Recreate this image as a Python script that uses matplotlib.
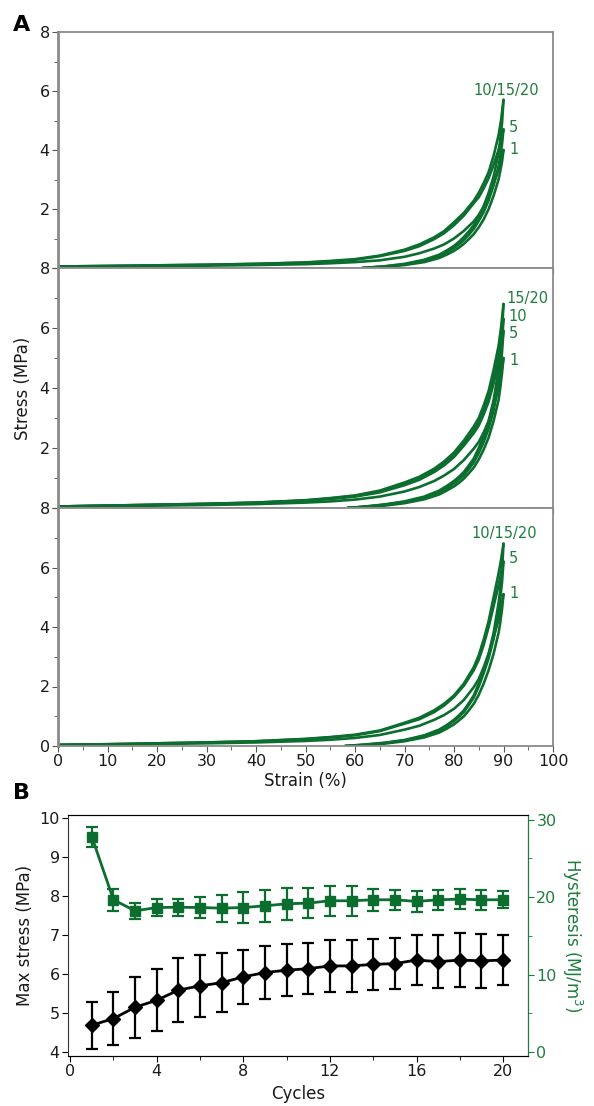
import numpy as np
import matplotlib.pyplot as plt
from matplotlib.ticker import MultipleLocator

# panel A: cyclic compression loops, strain (%) vs stress (MPa)
load_strain = [0, 10, 20, 30, 40, 50, 55, 60, 65, 70, 73, 76, 78, 80, 82, 84, 85, 86, 87, 88, 89, 89.5, 90]

# top sample: cycles 1, 5, 10 (15 and 20 overlap 10)
top_cycles = ["1", "5", "10/15/20"]
top_load = [
    [.04, .05, .06, .08, .10, .13, .16, .20, .26, .38, .50, .66, .80, 1.00, 1.26, 1.58, 1.80, 2.08, 2.40, 2.85, 3.35, 3.65, 4.0],
    [.05, .07, .09, .11, .14, .18, .22, .28, .40, .58, .74, .98, 1.18, 1.45, 1.78, 2.20, 2.40, 2.70, 3.05, 3.50, 4.00, 4.30, 4.7],
    [.05, .07, .09, .11, .14, .19, .24, .30, .42, .62, .80, 1.04, 1.25, 1.55, 1.87, 2.28, 2.55, 2.88, 3.25, 3.80, 4.50, 5.00, 5.7],
]
top_unload_strain = [90, 89.7, 89.3, 89, 88, 87, 86, 85, 84, 83, 82, 81, 80, 78.5, 77, 74, 70, 66, 61.5]
top_unload = [
    [4.0, 3.60, 3.25, 3.00, 2.45, 2.00, 1.65, 1.38, 1.15, 0.98, 0.82, 0.69, 0.58, 0.45, 0.34, 0.20, 0.10, 0.04, 0.0],
    [4.7, 4.20, 3.75, 3.45, 2.80, 2.30, 1.90, 1.60, 1.33, 1.13, 0.95, 0.80, 0.68, 0.53, 0.40, 0.24, 0.12, 0.05, 0.0],
    [5.7, 4.90, 4.30, 3.90, 3.10, 2.55, 2.10, 1.75, 1.45, 1.24, 1.05, 0.89, 0.75, 0.59, 0.45, 0.28, 0.14, 0.06, 0.0],
]
top_label_xy = [(91.1, 4.03, "left"), (91.1, 4.75, "left"), (90.5, 6.03, "center")]

# middle sample: cycles 1, 5, 10, 15/20
mid_cycles = ["1", "5", "10", "15/20"]
mid_load = [
    [.04, .06, .08, .10, .13, .18, .22, .28, .38, .55, .70, .90, 1.08, 1.30, 1.60, 1.98, 2.20, 2.52, 2.90, 3.40, 4.00, 4.45, 5.0],
    [.05, .08, .10, .13, .17, .24, .30, .38, .52, .76, .94, 1.20, 1.42, 1.70, 2.08, 2.50, 2.75, 3.12, 3.55, 4.15, 4.85, 5.30, 5.9],
    [.05, .08, .11, .14, .18, .25, .32, .40, .55, .80, .99, 1.25, 1.48, 1.75, 2.15, 2.60, 2.85, 3.25, 3.70, 4.35, 5.10, 5.60, 6.3],
    [.05, .08, .11, .14, .18, .26, .33, .42, .58, .85, 1.04, 1.31, 1.55, 1.85, 2.25, 2.72, 3.00, 3.42, 3.90, 4.60, 5.40, 6.00, 6.8],
]
mid_unload_strain = [90, 89.7, 89.3, 89, 88, 87, 86, 85, 84, 83, 82, 81, 80, 78.5, 77, 74, 70, 66, 62, 58.5]
mid_unload = [
    [5.0, 4.5, 3.95, 3.60, 2.90, 2.35, 1.95, 1.62, 1.35, 1.16, 0.98, 0.84, 0.72, 0.58, 0.45, 0.29, 0.16, 0.08, 0.03, 0.0],
    [5.9, 5.2, 4.55, 4.10, 3.25, 2.65, 2.20, 1.83, 1.52, 1.30, 1.10, 0.95, 0.82, 0.66, 0.52, 0.34, 0.19, 0.10, 0.04, 0.0],
    [6.3, 5.5, 4.80, 4.35, 3.40, 2.75, 2.30, 1.90, 1.58, 1.36, 1.15, 1.00, 0.86, 0.69, 0.55, 0.36, 0.20, 0.11, 0.04, 0.0],
    [6.8, 5.9, 5.10, 4.60, 3.60, 2.90, 2.40, 2.00, 1.65, 1.42, 1.20, 1.04, 0.90, 0.73, 0.58, 0.38, 0.22, 0.12, 0.05, 0.0],
]
mid_label_xy = [(91.1, 4.93, "left"), (91.1, 5.83, "left"), (90.9, 6.40, "left"), (90.5, 6.97, "left")]

# bottom sample: cycles 1, 5, 10 (15 and 20 overlap 10)
bot_cycles = ["1", "5", "10/15/20"]
bot_load = [
    [.03, .05, .07, .09, .12, .17, .21, .27, .37, .55, .68, .88, 1.04, 1.25, 1.55, 1.98, 2.25, 2.65, 3.10, 3.65, 4.25, 4.65, 5.1],
    [.04, .06, .09, .12, .16, .23, .29, .36, .50, .75, .90, 1.14, 1.36, 1.65, 2.03, 2.55, 2.90, 3.40, 4.00, 4.70, 5.40, 5.80, 6.2],
    [.04, .06, .09, .12, .16, .24, .30, .38, .52, .78, .95, 1.20, 1.42, 1.70, 2.10, 2.65, 3.05, 3.58, 4.20, 5.00, 5.80, 6.25, 6.8],
]
bot_unload_strain = [90, 89.7, 89.3, 89, 88, 87, 86, 85, 84, 83, 82, 81, 80, 78.5, 77, 74, 70, 66, 62, 58]
bot_unload = [
    [5.1, 4.6, 4.1, 3.8, 3.1, 2.55, 2.10, 1.72, 1.42, 1.20, 1.00, 0.86, 0.73, 0.58, 0.45, 0.29, 0.16, 0.08, 0.03, 0.0],
    [6.2, 5.5, 4.9, 4.5, 3.6, 2.95, 2.45, 2.00, 1.63, 1.38, 1.15, 0.98, 0.84, 0.67, 0.52, 0.34, 0.19, 0.10, 0.04, 0.0],
    [6.8, 5.9, 5.2, 4.8, 3.8, 3.10, 2.55, 2.10, 1.70, 1.44, 1.20, 1.03, 0.88, 0.70, 0.55, 0.36, 0.20, 0.11, 0.05, 0.0],
]
bot_label_xy = [(91.1, 5.14, "left"), (91.1, 6.29, "left"), (90.1, 7.13, "center")]

# panel B: per-cycle max stress and hysteresis (mean, sd)
cycles = np.arange(1, 21)
max_stress = [4.69, 4.86, 5.15, 5.33, 5.59, 5.70, 5.78, 5.93, 6.04, 6.10,
              6.14, 6.21, 6.21, 6.25, 6.27, 6.36, 6.32, 6.36, 6.34, 6.36]
max_stress_sd = [0.60, 0.67, 0.78, 0.80, 0.82, 0.80, 0.75, 0.69, 0.68, 0.66,
                 0.66, 0.67, 0.67, 0.66, 0.65, 0.65, 0.68, 0.69, 0.70, 0.64]
hysteresis = [27.8, 19.66, 18.23, 18.66, 18.7, 18.66, 18.58, 18.66, 18.88, 19.14,
              19.23, 19.53, 19.53, 19.66, 19.66, 19.44, 19.66, 19.74, 19.66, 19.66]
hysteresis_sd = [1.3, 1.4, 1.0, 1.1, 1.1, 1.3, 1.75, 2.0, 2.05, 2.1,
                 1.9, 1.9, 1.9, 1.45, 1.3, 1.3, 1.3, 1.3, 1.3, 1.1]

green = '#0b6e2f'
text_green = '#1e7d3e'
spine_gray = '#8a8a8a'
W, H = 594, 1106

plt.rcParams['font.family'] = 'DejaVu Sans'
fig = plt.figure(figsize=(W / 100, H / 100), dpi=100)


def px_axes(left, top, right, bottom):
    return fig.add_axes([left / W, 1 - bottom / H, (right - left) / W, (bottom - top) / H])


panels = [
    (32, 268, top_load, top_unload_strain, top_unload, top_cycles, top_label_xy),
    (268, 508, mid_load, mid_unload_strain, mid_unload, mid_cycles, mid_label_xy),
    (508, 746, bot_load, bot_unload_strain, bot_unload, bot_cycles, bot_label_xy),
]
axes_a = []
for i, (top, bottom, load, us, unload, names, label_xy) in enumerate(panels):
    ax = px_axes(58, top, 553, bottom)
    axes_a.append(ax)
    for ld, ul in zip(load, unload):
        ax.plot(load_strain, ld, color=green, lw=1.9, solid_capstyle='round', solid_joinstyle='round')
        ax.plot(us, ul, color=green, lw=1.9, solid_capstyle='round', solid_joinstyle='round')
    for name, (lx, ly, ha) in zip(names, label_xy):
        ax.text(lx, ly, name, color=text_green, fontsize=10.5, ha=ha, va='center')
    ax.set_xlim(0, 100)
    ax.set_ylim(0, 8)
    ax.xaxis.set_major_locator(MultipleLocator(10))
    ax.xaxis.set_minor_locator(MultipleLocator(5))
    ax.set_yticks([0, 2, 4, 6, 8])
    ax.yaxis.set_minor_locator(MultipleLocator(1))
    if i < 2:
        ax.set_yticklabels(['', '2', '4', '6', '8'])
        ax.tick_params(axis='x', labelbottom=False)
    for s in ax.spines.values():
        s.set_color(spine_gray)
        s.set_linewidth(1.3)
    ax.spines['left'].set_linewidth(2)
    ax.tick_params(which='both', direction='out', color='#555555', labelsize=11.5,
                   labelcolor='#1a1a1a', pad=2)
    ax.tick_params(which='major', length=4)
    ax.tick_params(which='minor', length=3)

axes_a[2].set_xlabel('Strain (%)', fontsize=12, color='#1a1a1a', labelpad=2)
axes_a[1].set_ylabel('Stress (MPa)', fontsize=12, color='#1a1a1a', labelpad=5)
fig.text(13 / W, 1 - 25 / H, 'A', fontsize=16, fontweight='bold', va='center', ha='left')

# panel B
axb = px_axes(68, 815, 528, 1056)
axb.errorbar(cycles, max_stress, yerr=max_stress_sd, color='black', marker='D',
             markersize=7.5, lw=2, elinewidth=1.6, capsize=4, capthick=1.6, zorder=3)
axb.set_xlim(-0.1, 21.15)
axb.set_ylim(3.9, 10.08)
axb.xaxis.set_major_locator(MultipleLocator(4))
axb.xaxis.set_minor_locator(MultipleLocator(2))
axb.yaxis.set_major_locator(MultipleLocator(1))
axb.set_xlabel('Cycles', fontsize=12, color='#1a1a1a', labelpad=4)
axb.set_ylabel('Max stress (MPa)', fontsize=12, color='#1a1a1a', labelpad=4)
axb.tick_params(which='both', direction='out', labelsize=11.5, labelcolor='#1a1a1a', pad=2)
axb.tick_params(which='major', length=4)
axb.tick_params(which='minor', length=3)
for s in axb.spines.values():
    s.set_color('#333333')

axh = axb.twinx()
axh.errorbar(cycles, hysteresis, yerr=hysteresis_sd, color=green, marker='s',
             markersize=6.5, lw=2, elinewidth=1.6, capsize=4, capthick=1.6, zorder=3)
axh.set_ylim(-0.5, 30.6)
axh.yaxis.set_major_locator(MultipleLocator(10))
axh.yaxis.set_minor_locator(MultipleLocator(5))
axh.spines['right'].set_color(text_green)
axh.spines['left'].set_visible(False)
axh.tick_params(which='both', direction='out', colors=text_green, labelsize=11.5, pad=2)
axh.tick_params(which='major', length=4)
axh.tick_params(which='minor', length=3)
axh.set_ylabel('Hysteresis (MJ/m$^3$)', fontsize=12, color=text_green, rotation=-90,
               labelpad=20)
fig.text(13 / W, 1 - 793 / H, 'B', fontsize=16, fontweight='bold', va='center', ha='left')

fig.savefig('out.png', dpi=100)
